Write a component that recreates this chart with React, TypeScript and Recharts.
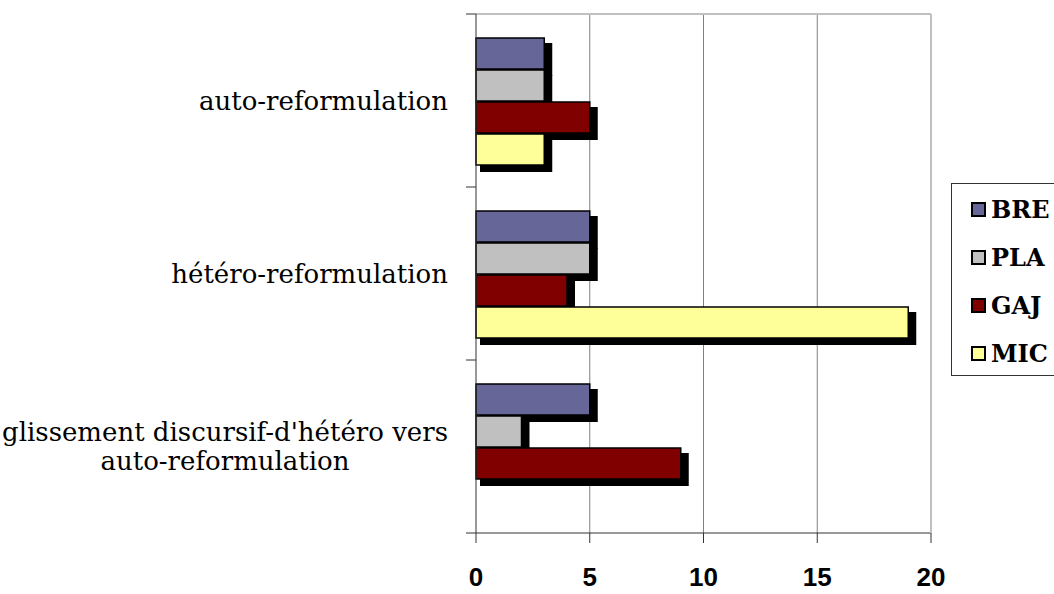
import React from "react";
import { BarChart, Bar, XAxis, YAxis, CartesianGrid } from "recharts";

const categories = [
  "auto-reformulation",
  "hétéro-reformulation",
  "glissement discursif-d'hétéro vers\nauto-reformulation",
];
const breValues = [3, 5, 5];
const plaValues = [3, 5, 2];
const gajValues = [5, 4, 9];
const micValues = [3, 19, 0];
const xTicks = [0, 5, 10, 15, 20];

const seriesNames = ["BRE", "PLA", "GAJ", "MIC"];
const seriesColors = ["#666699", "#C0C0C0", "#800000", "#FFFF99"];

const data = categories.map((name, i) => ({
  name,
  BRE: breValues[i],
  PLA: plaValues[i],
  GAJ: gajValues[i],
  MIC: micValues[i],
}));

const WIDTH = 1054;
const HEIGHT = 594;
const MARGIN = { top: 13, right: 122, bottom: 0, left: 0 };
const X_AXIS_HEIGHT = 61;
const Y_AXIS_WIDTH = 476;
const BAND = (HEIGHT - MARGIN.top - 1 - MARGIN.bottom - X_AXIS_HEIGHT) / categories.length;

const labelFont = "26px 'DejaVu Serif'";

function measure(text: string) {
  const ctx = document.createElement("canvas").getContext("2d");
  if (!ctx) return text.length * 12;
  ctx.font = labelFont;
  return ctx.measureText(text).width;
}

// Excel-style bar: black drop shadow under an outlined rectangle
function ShadowBar(props: any) {
  const { x, y, width, height, fill } = props;
  if (!width || width <= 0) return null;
  return (
    <g>
      <rect x={x + 4} y={y + 5} width={width + 4} height={height + 2} fill="#000" />
      <rect x={x} y={y} width={width} height={height} fill={fill} stroke="#000" strokeWidth={1.5} />
    </g>
  );
}

// Category label plus tick marks on the band boundaries
function CategoryTick(props: any) {
  const { x, y, payload, index } = props;
  const lines = String(payload.value).split("\n");
  const right = x - 18;
  const widest = Math.max(...lines.map(measure));
  const cx = right - widest / 2;
  const lineH = 29;
  const firstBaseline = y + 9 - ((lines.length - 1) * lineH) / 2;
  return (
    <g>
      <line x1={x} x2={x + 10} y1={y - BAND / 2} y2={y - BAND / 2} stroke="#333" />
      {index === categories.length - 1 && (
        <line x1={x} x2={x + 10} y1={y + BAND / 2} y2={y + BAND / 2} stroke="#333" />
      )}
      <text textAnchor="middle" fill="#000" style={{ font: labelFont }}>
        {lines.map((l, i) => (
          <tspan key={i} x={cx} y={firstBaseline + i * lineH}>
            {l}
          </tspan>
        ))}
      </text>
    </g>
  );
}

function ValueTick(props: any) {
  const { x, y, payload } = props;
  return (
    <text
      x={x}
      y={y + 41}
      textAnchor="middle"
      fill="#000"
      fontFamily="'Liberation Sans', Arial, sans-serif"
      fontWeight="bold"
      fontSize={26}
    >
      {payload.value}
    </text>
  );
}

function LegendBox() {
  return (
    <div
      style={{
        position: "absolute",
        left: 951,
        top: 183,
        width: 110,
        height: 193,
        border: "1px solid #333",
        background: "#fff",
        boxSizing: "border-box",
        paddingTop: 1,
      }}
    >
      {seriesNames.map((name, i) => (
        <div
          key={name}
          style={{
            height: 48,
            display: "flex",
            alignItems: "center",
            paddingLeft: 19,
          }}
        >
          <span
            style={{
              width: 15,
              height: 15,
              boxSizing: "border-box",
              border: "2px solid #000",
              background: seriesColors[i],
              marginRight: 5,
            }}
          />
          <span
            style={{
              fontFamily: "'DejaVu Serif', serif",
              fontWeight: "bold",
              fontSize: 24,
              color: "#000",
            }}
          >
            {name}
          </span>
        </div>
      ))}
    </div>
  );
}

export default function App() {
  return (
    <div
      style={{
        position: "absolute",
        left: 0,
        top: 0,
        width: WIDTH,
        height: HEIGHT,
        overflow: "hidden",
        background: "#fff",
      }}
    >
      <BarChart
        width={WIDTH}
        height={HEIGHT}
        data={data}
        layout="vertical"
        margin={MARGIN}
        barCategoryGap={24}
        barGap={1}
      >
        <CartesianGrid horizontal={false} verticalValues={[5, 10, 15]} stroke="#808080" />
        <XAxis
          type="number"
          domain={[0, 20]}
          ticks={xTicks}
          height={X_AXIS_HEIGHT}
          tickSize={10}
          tick={<ValueTick />}
          axisLine={{ stroke: "#333" }}
          tickLine={{ stroke: "#333" }}
        />
        {/* light frame along the top and right of the plot */}
        <XAxis
          xAxisId="top"
          orientation="top"
          type="number"
          domain={[0, 20]}
          height={1}
          tick={false}
          tickLine={false}
          axisLine={{ stroke: "#c0c0c0", strokeWidth: 2 }}
        />
        <YAxis
          type="category"
          dataKey="name"
          width={Y_AXIS_WIDTH}
          tickSize={10}
          tickMargin={0}
          tickLine={false}
          tick={<CategoryTick />}
          axisLine={{ stroke: "#333" }}
          interval={0}
        />
        <YAxis
          yAxisId="right"
          orientation="right"
          type="number"
          width={1}
          tick={false}
          tickLine={false}
          axisLine={{ stroke: "#c0c0c0", strokeWidth: 2 }}
        />
        {seriesNames.map((name, i) => (
          <Bar
            key={name}
            dataKey={name}
            fill={seriesColors[i]}
            shape={<ShadowBar />}
            isAnimationActive={false}
          />
        ))}
      </BarChart>
      <LegendBox />
    </div>
  );
}
